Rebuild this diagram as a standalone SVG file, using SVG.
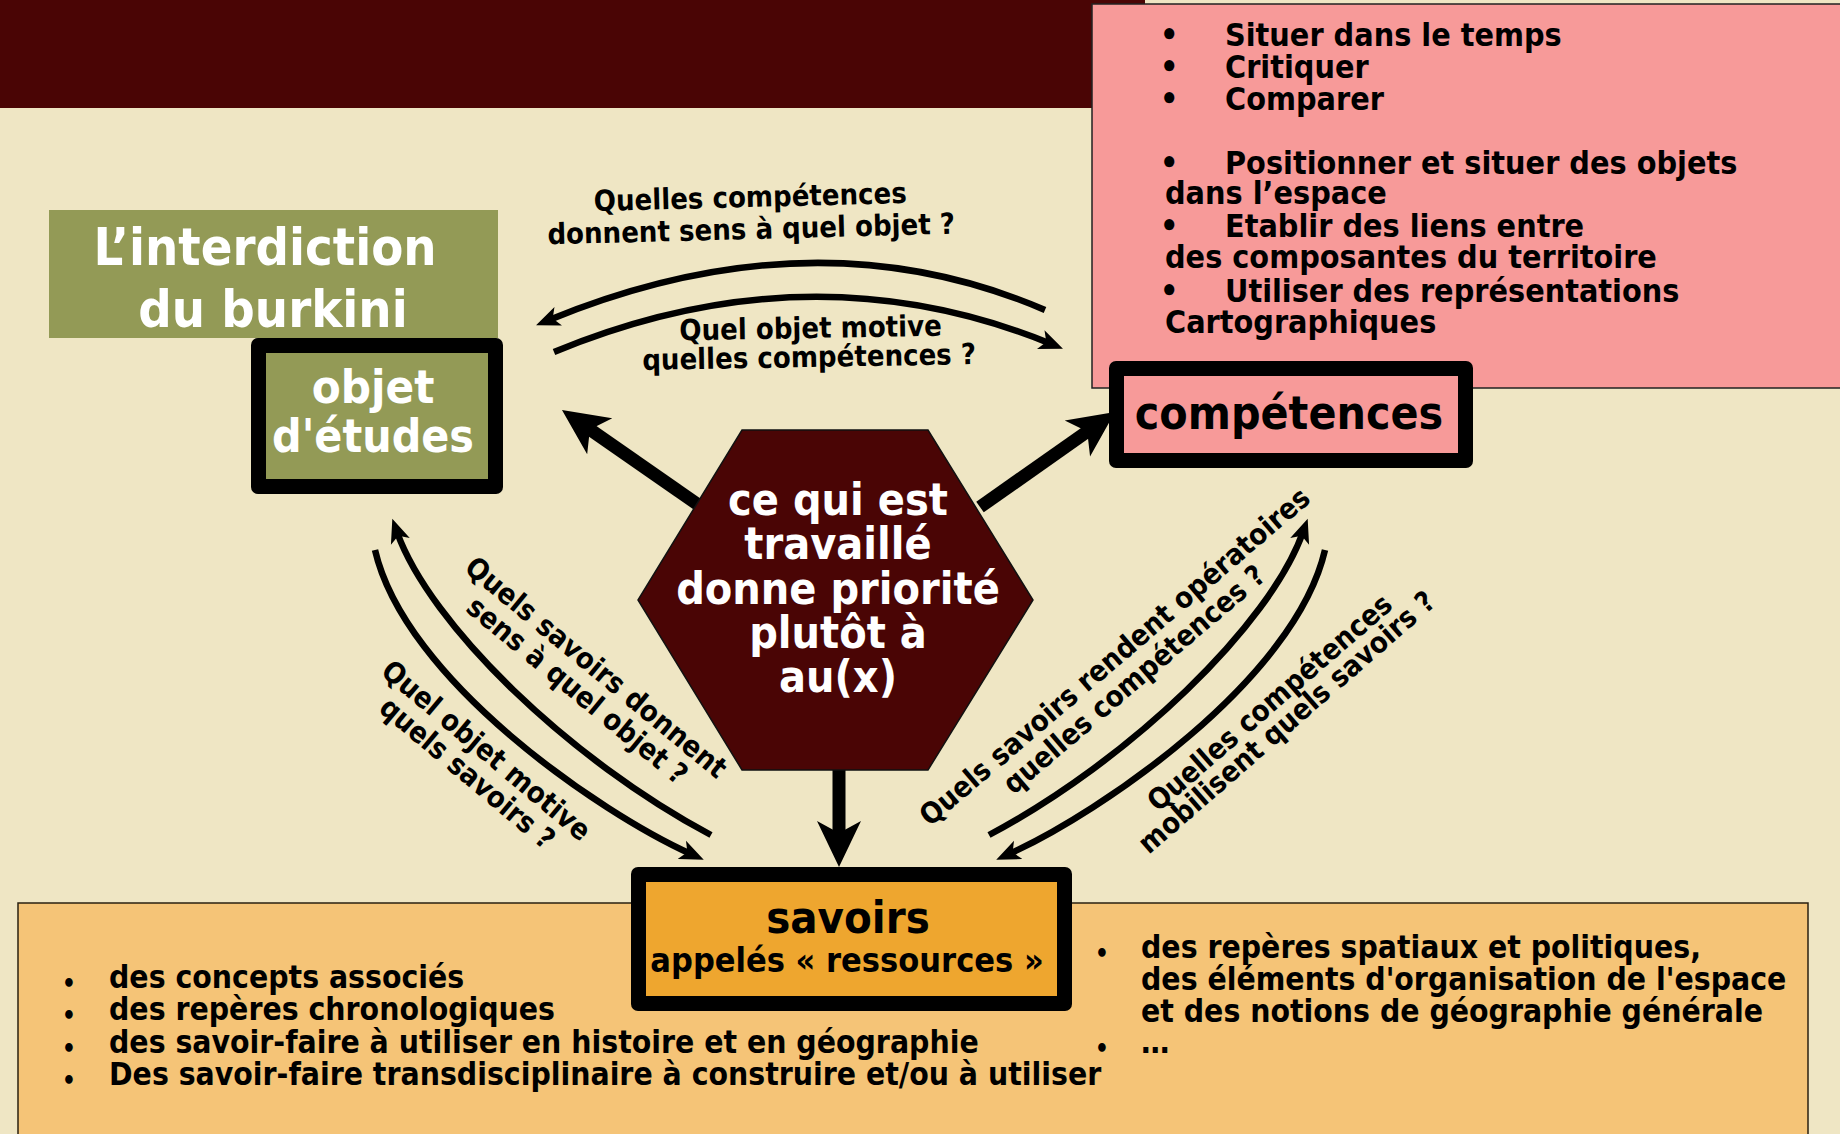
<svg xmlns="http://www.w3.org/2000/svg" width="1840" height="1134" viewBox="0 0 1840 1134">
<style>
  text { font-family: 'DejaVu Sans', 'Liberation Sans', sans-serif; font-weight: bold; font-stretch: condensed; }
  .w { fill: #ffffff; }
  .k { fill: #000000; }
  .mid { text-anchor: middle; }
  .lab { font-size: 29px; fill: #000; text-anchor: middle; }
  .list { font-size: 32px; fill: #000; }
  .blist { font-size: 31.6px; fill: #000; }
  .bul { font-size: 24px; fill: #000; }
  .thin { fill: none; stroke: #000; stroke-width: 6.5; marker-end: url(#smallHead); }
  .thick { fill: none; stroke: #000; stroke-width: 13; marker-end: url(#bigHead); }
</style>
<defs>
  <marker id="bigHead" markerUnits="userSpaceOnUse" markerWidth="48" markerHeight="46" viewBox="0 0 48 46" refX="16" refY="23" orient="auto">
    <path d="M0,1 L46,23 L0,45 L12,23 Z" fill="#000"/>
  </marker>
  <marker id="smallHead" markerUnits="userSpaceOnUse" markerWidth="26" markerHeight="22" viewBox="0 0 26 22" refX="10" refY="11" orient="auto">
    <path d="M0,1 L24,11 L0,21 L6,11 Z" fill="#000"/>
  </marker>
</defs>

<rect x="0" y="0" width="1840" height="1134" fill="#efe6c4"/>

<g id="bandeau">
  <rect x="0" y="0" width="1145" height="108" fill="#4a0505"/>
</g>

<g id="liste-competences">
  <rect x="1092" y="4" width="760" height="384" fill="#f79a99" stroke="#222" stroke-width="1.5"/>
  <text class="list"><tspan x="1160" y="46">•</tspan><tspan x="1225" y="46">Situer dans le temps</tspan></text>
  <text class="list"><tspan x="1160" y="78">•</tspan><tspan x="1225" y="78">Critiquer</tspan></text>
  <text class="list"><tspan x="1160" y="110">•</tspan><tspan x="1225" y="110">Comparer</tspan></text>
  <text class="list"><tspan x="1160" y="174">•</tspan><tspan x="1225" y="174">Positionner et situer des objets</tspan></text>
  <text class="list" x="1165" y="204">dans l’espace</text>
  <text class="list"><tspan x="1160" y="237">•</tspan><tspan x="1225" y="237">Etablir des liens entre</tspan></text>
  <text class="list" x="1165" y="268">des composantes du territoire</text>
  <text class="list"><tspan x="1160" y="302">•</tspan><tspan x="1225" y="302">Utiliser des représentations</tspan></text>
  <text class="list" x="1165" y="333">Cartographiques</text>
</g>

<g id="liste-savoirs">
  <rect x="18" y="903" width="1790" height="240" fill="#f5c477" stroke="#2a2010" stroke-width="1.5"/>
  <text class="bul" x="62" y="992">•</text>
  <text class="blist" x="109" y="988">des concepts associés</text>
  <text class="bul" x="62" y="1024">•</text>
  <text class="blist" x="109" y="1020">des repères chronologiques</text>
  <text class="bul" x="62" y="1057">•</text>
  <text class="blist" x="109" y="1053">des savoir-faire à utiliser en histoire et en géographie</text>
  <text class="bul" x="62" y="1089">•</text>
  <text class="blist" x="109" y="1085">Des savoir-faire transdisciplinaire à construire et/ou à utiliser</text>
  <text class="bul" x="1095" y="962">•</text>
  <text class="blist" x="1141" y="958">des repères spatiaux et politiques,</text>
  <text class="blist" x="1141" y="990">des éléments d'organisation de l'espace</text>
  <text class="blist" x="1141" y="1022">et des notions de géographie générale</text>
  <text class="bul" x="1095" y="1057">•</text>
  <text class="blist" x="1141" y="1053">…</text>
</g>

<g id="objet-titre">
  <rect x="49" y="210" width="449" height="128" fill="#939a56"/>
  <text class="w mid" font-size="52" x="265" y="265">L’interdiction</text>
  <text class="w mid" font-size="52" x="273" y="327">du burkini</text>
</g>

<g id="objet">
  <rect x="251" y="338" width="252" height="156" rx="7" fill="#000"/>
  <rect x="266" y="353" width="222" height="126" fill="#939a56"/>
  <text class="w mid" font-size="47" x="373" y="403">objet</text>
  <text class="w mid" font-size="46" x="373" y="452">d'études</text>
</g>

<g id="competences">
  <rect x="1109" y="361" width="364" height="107" rx="7" fill="#000"/>
  <rect x="1124" y="376" width="334" height="77" fill="#f79a99"/>
  <text class="k mid" font-size="46" x="1289" y="429">compétences</text>
</g>

<g id="savoirs">
  <rect x="631" y="867" width="441" height="144" rx="7" fill="#000"/>
  <rect x="646" y="882" width="411" height="114" fill="#eea62f"/>
  <text class="k mid" font-size="45" x="848" y="933">savoirs</text>
  <text class="k mid" font-size="34" x="847" y="972">appelés « ressources »</text>
</g>

<g id="connecteurs">
  <path class="thick" d="M700,506 L586.6,427.1"/>
  <path class="thick" d="M980,507 L1090.5,429.3"/>
  <path class="thick" d="M839,760 L839,837"/>
  <path class="thin" stroke-width="7" d="M1045,310 Q815,211 549,320"/>
  <path class="thin" stroke-width="7" d="M554,352 Q810,246 1050,343.4"/>
  <path class="thin" d="M711,835 C570,760 430,625 397,532"/>
  <path class="thin" d="M375,550 C405,680 600,813 691,854"/>
  <path class="thin" d="M989,835 C1130,760 1270,625 1303,532"/>
  <path class="thin" d="M1325,550 C1295,680 1100,813 1009,854"/>
</g>

<g id="centre">
  <polygon points="742,430 928,430 1033,600 928,770 742,770 638,600" fill="#4a0505" stroke="#111" stroke-width="1.5"/>
  <text class="w mid" font-size="44.5"><tspan x="838" y="515">ce qui est</tspan><tspan x="838" y="559">travaillé</tspan><tspan x="838" y="604">donne priorité</tspan><tspan x="838" y="648">plutôt à</tspan><tspan x="838" y="692">au(x)</tspan></text>
</g>

<g id="etiquettes-connecteurs">
  <text class="lab" transform="rotate(-1.5 751 223)"><tspan x="751" y="207">Quelles compétences</tspan><tspan x="751" y="239">donnent sens à quel objet ?</tspan></text>
  <text class="lab" transform="rotate(-1 810 352)"><tspan x="811" y="338">Quel objet motive</tspan><tspan x="809" y="367">quelles compétences ?</tspan></text>
  <text class="lab" transform="translate(590 675) rotate(39.5)"><tspan x="0" y="0">Quels savoirs donnent</tspan><tspan x="0" y="30">sens à quel objet ?</tspan></text>
  <text class="lab" transform="translate(480 758) rotate(40)"><tspan x="0" y="0">Quel objet motive</tspan><tspan x="0" y="29.5">quels savoirs ?</tspan></text>
  <text class="lab" transform="translate(1121 664) rotate(-40.5)"><tspan x="0" y="0">Quels savoirs rendent opératoires</tspan><tspan x="0" y="30">quelles compétences ?</tspan></text>
  <text class="lab" transform="translate(1276 710) rotate(-41)"><tspan x="0" y="0">Quelles compétences</tspan><tspan x="0" y="26">mobilisent quels savoirs ?</tspan></text>
</g>
</svg>
